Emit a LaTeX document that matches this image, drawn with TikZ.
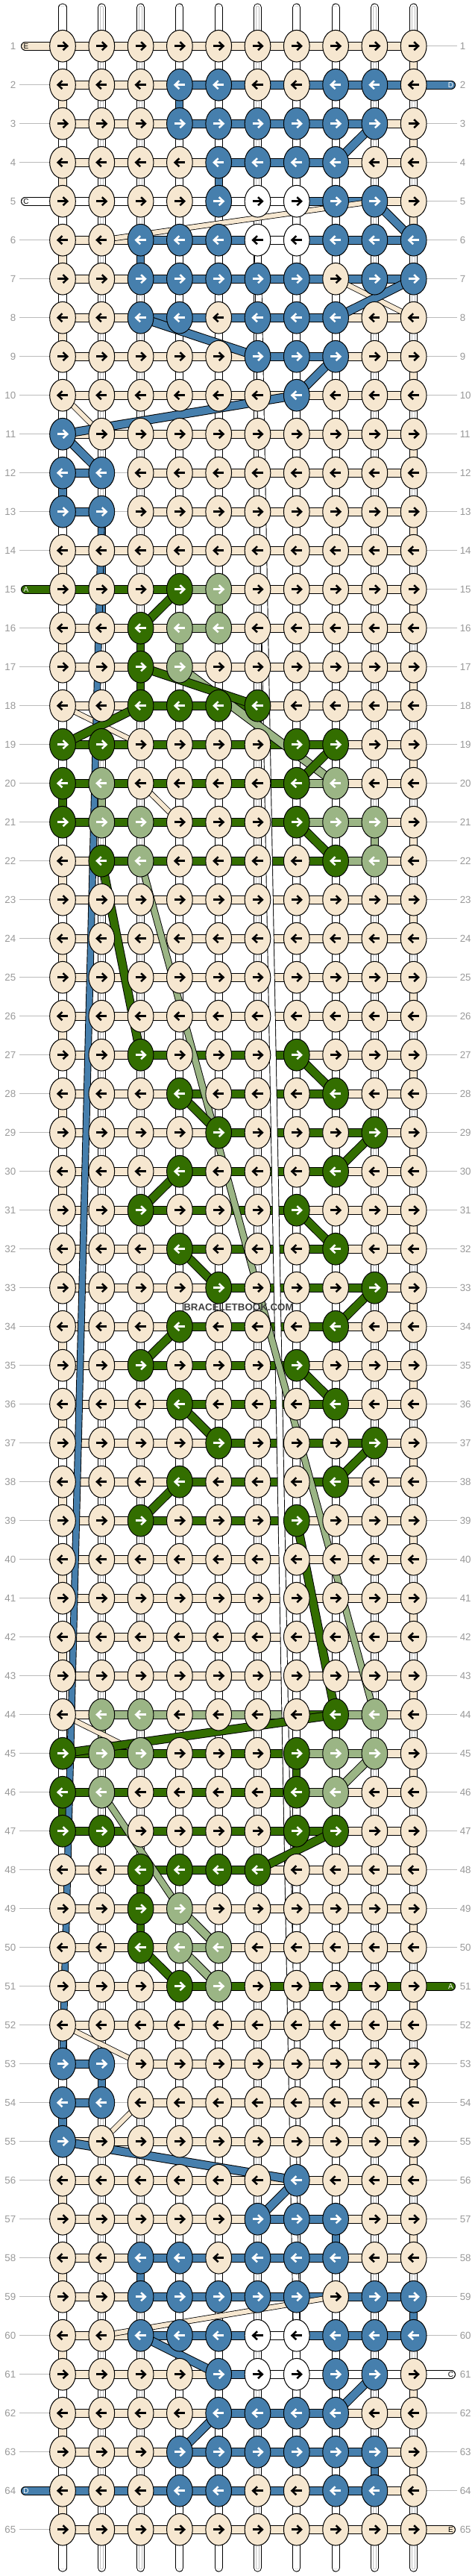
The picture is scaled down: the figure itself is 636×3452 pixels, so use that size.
\documentclass[tikz,border=0pt]{standalone}
\usepackage{fontspec}
\setmainfont{Liberation Sans}
\usetikzlibrary{shapes.geometric}
\definecolor{kb}{HTML}{F6E7D0}
\definecolor{kB}{HTML}{467FAD}
\definecolor{kW}{HTML}{FFFFFF}
\definecolor{kG}{HTML}{336E00}
\definecolor{kL}{HTML}{9BB585}
\definecolor{kn}{HTML}{FFFFFF}
\colorlet{ab}{black}\colorlet{aW}{black}\colorlet{aB}{white}\colorlet{aG}{white}\colorlet{aL}{white}
\colorlet{eb}{black}\colorlet{eW}{black}\colorlet{eB}{black}\colorlet{eG}{black}\colorlet{eL}{black}\colorlet{en}{white}
\definecolor{lblgray}{HTML}{999999}
\definecolor{linegray}{HTML}{BBBBBB}
\pgfdeclarelayer{paper}
\pgfdeclarelayer{verts}
\pgfdeclarelayer{bars}
\pgfdeclarelayer{diags}
\pgfsetlayers{paper,verts,bars,diags,main}
\begin{document}
\begin{tikzpicture}[x=0.75pt,y=-0.75pt,
 knot/.style={ellipse,draw=black,line width=0.75pt,minimum width=26pt,minimum height=32pt,inner sep=0pt},
 arr/.pic={\draw[line width=1.9pt,line cap=butt] (-7,0)--(5.5,0);
           \draw[line width=1.9pt,line join=miter,line cap=butt] (0.5,-5.5)--(6.3,0)--(0.5,5.5);},
 hbar/.style={line width=0.75pt,double distance=7.5pt},
 vout/.style={draw=black,line width=0.75pt,double=white,double distance=6.8pt},
 vin/.style={draw=black!25,line width=0.4pt,double=white,double distance=2.6pt},
 vc/.style={draw=black,line width=0.75pt,double=#1,double distance=6.8pt},
 dg/.style={draw=black,line width=0.75pt,double=#1,double distance=7.5pt},
 dgm/.style={draw=black,line width=0.7pt,double=#1,double distance=5.8pt},
 dgt/.style={draw=black,line width=0.6pt,double=#1,double distance=4.5pt},
 side/.style={draw=black,line width=0.75pt,double=#1,double distance=7.5pt,line cap=round},
 glin/.style={draw=linegray,line width=0.75pt},
 lbl/.style={text=lblgray,font=\fontsize{10}{12}\selectfont,inner sep=0pt},
 sidelbl/.style={font=\fontsize{7.5}{9}\selectfont,inner sep=0pt},
]
\useasboundingbox (0,0) rectangle (636,3452);
\begin{pgfonlayer}{paper}
\fill[white] (0,0) rectangle (636,3452);
\end{pgfonlayer}

% knots and horizontal bars
\foreach \r/\K/\H in {
1/{b,b,b,b,b,b,b,b,b,b}/{b,b,b,b,b,b,b,b,b},
2/{b,b,b,B,B,b,b,B,B,b}/{b,b,b,B,B,B,B,B,B},
3/{b,b,b,B,B,B,B,B,B,b}/{b,b,b,B,B,B,B,B,b},
4/{b,b,b,b,B,B,B,B,b,b}/{b,b,b,b,B,B,B,b,b},
5/{b,b,b,b,B,W,W,B,B,b}/{W,W,W,W,W,W,B,B,b},
6/{b,b,B,B,B,W,W,B,B,B}/{b,b,B,B,B,W,B,B,B},
7/{b,b,B,B,B,B,B,b,B,B}/{b,b,B,B,B,B,B,B,B},
8/{b,b,B,B,b,B,B,B,b,b}/{b,b,B,B,B,B,B,b,b},
9/{b,b,b,b,b,B,B,B,b,b}/{b,b,b,b,b,B,B,b,b},
10/{b,b,b,b,b,b,B,b,b,b}/{b,b,b,b,b,b,b,b,b},
11/{B,b,b,b,b,b,b,b,b,b}/{b,b,b,b,b,b,b,b,b},
12/{B,B,b,b,b,b,b,b,b,b}/{B,n,b,b,b,b,b,b,b},
13/{B,B,b,b,b,b,b,b,b,b}/{B,n,b,b,b,b,b,b,b},
14/{b,b,b,b,b,b,b,b,b,b}/{b,b,b,b,b,b,b,b,b},
15/{b,b,b,G,L,b,b,b,b,b}/{G,G,G,L,b,b,b,b,b},
16/{b,b,G,L,L,b,b,b,b,b}/{b,b,b,L,b,b,b,b,b},
17/{b,b,G,L,b,b,b,b,b,b}/{b,b,b,b,b,b,b,b,b},
18/{b,b,G,G,G,G,b,b,b,b}/{b,b,G,G,G,b,b,b,b},
19/{G,G,b,b,b,b,G,G,b,b}/{G,G,G,G,G,G,G,b,b},
20/{G,L,b,b,b,b,G,L,b,b}/{G,G,G,G,G,G,L,b,b},
21/{G,L,L,b,b,b,G,L,L,b}/{G,G,G,G,G,G,L,L,b},
22/{b,G,L,b,b,b,b,G,L,b}/{b,G,G,G,G,G,G,L,b},
23/{b,b,b,b,b,b,b,b,b,b}/{b,b,b,b,b,b,b,b,b},
24/{b,b,b,b,b,b,b,b,b,b}/{b,b,b,b,b,b,b,b,b},
25/{b,b,b,b,b,b,b,b,b,b}/{b,b,b,b,b,b,b,b,b},
26/{b,b,b,b,b,b,b,b,b,b}/{b,b,b,b,b,b,b,b,b},
27/{b,b,G,b,b,b,G,b,b,b}/{b,b,G,G,G,G,b,b,b},
28/{b,b,b,G,b,b,b,G,b,b}/{b,b,b,G,G,G,G,b,b},
29/{b,b,b,b,G,b,b,b,G,b}/{b,b,b,b,G,G,G,G,b},
30/{b,b,b,G,b,b,b,G,b,b}/{b,b,b,G,G,G,G,b,b},
31/{b,b,G,b,b,b,G,b,b,b}/{b,b,G,G,G,G,b,b,b},
32/{b,b,b,G,b,b,b,G,b,b}/{b,b,b,G,G,G,G,b,b},
33/{b,b,b,b,G,b,b,b,G,b}/{b,b,b,b,G,G,G,G,b},
34/{b,b,b,G,b,b,b,G,b,b}/{b,b,b,G,G,G,G,b,b},
35/{b,b,G,b,b,b,G,b,b,b}/{b,b,G,G,G,G,b,b,b},
36/{b,b,b,G,b,b,b,G,b,b}/{b,b,b,G,G,G,G,b,b},
37/{b,b,b,b,G,b,b,b,G,b}/{b,b,b,b,G,G,G,G,b},
38/{b,b,b,G,b,b,b,G,b,b}/{b,b,b,G,G,G,G,b,b},
39/{b,b,G,b,b,b,G,b,b,b}/{b,b,G,G,G,G,b,b,b},
40/{b,b,b,b,b,b,b,b,b,b}/{b,b,b,b,b,b,b,b,b},
41/{b,b,b,b,b,b,b,b,b,b}/{b,b,b,b,b,b,b,b,b},
42/{b,b,b,b,b,b,b,b,b,b}/{b,b,b,b,b,b,b,b,b},
43/{b,b,b,b,b,b,b,b,b,b}/{b,b,b,b,b,b,b,b,b},
44/{b,L,L,b,b,b,b,G,L,b}/{b,L,L,L,L,L,G,L,b},
45/{G,L,L,b,b,b,G,L,L,b}/{G,G,G,G,G,G,L,L,b},
46/{G,L,b,b,b,b,G,L,b,b}/{G,G,G,G,G,G,L,b,b},
47/{G,G,b,b,b,b,G,G,b,b}/{G,G,G,G,G,G,G,b,b},
48/{b,b,G,G,G,G,b,b,b,b}/{b,b,G,G,G,b,b,b,b},
49/{b,b,G,L,b,b,b,b,b,b}/{b,b,b,b,b,b,b,b,b},
50/{b,b,G,L,L,b,b,b,b,b}/{b,b,b,L,b,b,b,b,b},
51/{b,b,b,G,L,b,b,b,b,b}/{b,b,b,G,G,G,G,G,G},
52/{b,b,b,b,b,b,b,b,b,b}/{b,b,b,b,b,b,b,b,b},
53/{B,B,b,b,b,b,b,b,b,b}/{B,n,b,b,b,b,b,b,b},
54/{B,B,b,b,b,b,b,b,b,b}/{B,n,b,b,b,b,b,b,b},
55/{B,b,b,b,b,b,b,b,b,b}/{b,b,b,b,b,b,b,b,b},
56/{b,b,b,b,b,b,B,b,b,b}/{b,b,b,b,b,b,b,b,b},
57/{b,b,b,b,b,B,B,B,b,b}/{b,b,b,b,b,B,B,b,b},
58/{b,b,B,B,b,B,B,B,b,b}/{b,b,B,B,B,B,B,b,b},
59/{b,b,B,B,B,B,B,b,B,B}/{b,b,B,B,B,B,B,B,B},
60/{b,b,B,B,B,W,W,B,B,B}/{b,b,B,B,B,W,B,B,B},
61/{b,b,b,b,B,W,W,B,B,b}/{b,b,b,b,B,W,W,W,W},
62/{b,b,b,b,B,B,B,B,b,b}/{b,b,b,b,B,B,B,b,b},
63/{b,b,b,B,B,B,B,B,B,b}/{b,b,b,B,B,B,B,B,b},
64/{b,b,b,B,B,b,b,B,B,b}/{B,B,B,B,B,B,B,B,b},
65/{b,b,b,b,b,b,b,b,b,b}/{b,b,b,b,b,b,b,b,b}%
}{
  \pgfmathsetmacro\dir{mod(\r,2)==1 ? 1 : -1}
  \foreach \col [count=\c] in \K {
    \node[knot,fill=k\col] (k\r-\c) at ({84+52.3*(\c-1)},{61.7+52*(\r-1)}) {};
    \pic[color=a\col,xscale=\dir] at (k\r-\c) {arr};
  }
  \begin{pgfonlayer}{bars}
  \foreach \hc [count=\c] in \H {
    \pgfmathtruncatemacro\cn{\c+1}
    \draw[hbar,draw=e\hc,double=k\hc] (k\r-\c.center) -- (k\r-\cn.center);
  }
  \end{pgfonlayer}
  \node[lbl,anchor=east] (ll\r) at (21.5,{61.7+52*(\r-1)}) {\r};
  \node[lbl,anchor=west] (lr\r) at (616.5,{61.7+52*(\r-1)}) {\r};
  \coordinate (gl\r) at (26,{61.7+52*(\r-1)});
  \coordinate (gr\r) at (613,{61.7+52*(\r-1)});
  \pgfmathtruncatemacro\skipL{or(or(\r==1,\r==5),or(\r==15,\r==64))}
  \pgfmathtruncatemacro\skipR{or(or(\r==2,\r==51),or(\r==61,\r==65))}
  \begin{pgfonlayer}{verts}
  \ifnum\skipL=0 \draw[glin] (gl\r) -- (k\r-1.center); \fi
  \ifnum\skipR=0 \draw[glin] (gr\r) -- (k\r-10.center); \fi
  \end{pgfonlayer}
}

% vertical strands
\begin{pgfonlayer}{verts}
\foreach \c in {1,...,10} {
  \coordinate (t\c) at ({84+52.3*(\c-1)},10);
  \coordinate (u\c) at ({84+52.3*(\c-1)},3441);
  \draw[vout,line cap=round] (t\c) -- (k1-\c.center);
  \draw[vin,line cap=round] (t\c) -- (k1-\c.center);
  \draw[vout,line cap=round] (k65-\c.center) -- (u\c);
  \draw[vin,line cap=round] (k65-\c.center) -- (u\c);
}
\foreach \r in {1,...,64} {
  \pgfmathtruncatemacro\rn{\r+1}
  \foreach \c in {1,...,10} {
    \draw[vout] (k\r-\c.center) -- (k\rn-\c.center);
    \draw[vin] (k\r-\c.center) -- (k\rn-\c.center);
  }
  \pgfmathtruncatemacro\ce{mod(\r,2)==1 ? 10 : 1}
  \draw[vc=kb] (k\r-\ce.center) -- (k\rn-\ce.center);
}
\foreach \r/\c in {7/10,10/1,18/1,44/1,52/1} {
  \pgfmathtruncatemacro\rn{\r+1}
  \draw[vout] (k\r-\c.center) -- (k\rn-\c.center);
  \draw[vin] (k\r-\c.center) -- (k\rn-\c.center);
}
\foreach \r/\c/\cl in {12/1/kB,54/1/kB,59/10/kB,20/1/kG,46/1/kG,2/4/kB,4/5/kB,6/3/kB,6/6/kW,
  13/2/kB,14/2/kB,15/2/kB,15/5/kL,16/3/kG,16/4/kL,17/3/kG,20/2/kL,21/9/kL,44/2/kL,45/7/kG,
  48/3/kG,49/3/kG,53/2/kB,57/8/kB,58/3/kB,63/9/kB} {
  \pgfmathtruncatemacro\rn{\r+1}
  \draw[vc=\cl] (k\r-\c.center) -- (k\rn-\c.center);
}
\end{pgfonlayer}

% side strands
\begin{pgfonlayer}{bars}
\foreach \r/\cl/\lt/\tc in {1/kb/E/black,5/kW/C/black,15/kG/A/white,64/kB/D/white} {
  \coordinate (sl\r) at (34,{61.7+52*(\r-1)});
  \draw[side=\cl] (sl\r) -- (k\r-1.center);
}
\foreach \r/\cl/\lt/\tc in {2/kB/D/white,51/kG/A/white,61/kW/C/black,65/kb/E/black} {
  \coordinate (sr\r) at (605,{61.7+52*(\r-1)});
  \draw[side=\cl] (k\r-10.center) -- (sr\r);
}
\end{pgfonlayer}
\foreach \r/\lt/\tc in {1/E/black,5/C/black,15/A/white,64/D/white}
  \node[sidelbl,text=\tc] (slt\r) at (35,{61.7+52*(\r-1)}) {\lt};
\foreach \r/\lt/\tc in {2/D/white,51/A/white,61/C/black,65/E/black}
  \node[sidelbl,text=\tc] (srt\r) at (604.5,{61.7+52*(\r-1)}) {\lt};

% carried strands
\begin{pgfonlayer}{diags}
\foreach \r in {12,13,53,54} \draw[glin] (k\r-2.center) -- (k\r-3.center);
\draw[dgm=white] (k6-6.center) -- (k60-7.center);
\foreach \p/\q in {6-2/5-9,7-8/8-10,10-1/11-2,18-1/19-3,20-3/21-4,44-1/45-3,52-1/53-3,54-3/55-2,60-2/59-8}
  \draw[dgt=kb] (k\p.center) -- (k\q.center);
\foreach \p/\q in {3-9/4-8,5-9/6-10,7-10/8-8,8-3/9-6,9-8/10-7,10-7/11-1,11-1/12-2,55-1/56-7,56-7/57-6,60-3/61-5,61-9/62-8,62-5/63-4}
  \draw[dg=kB] (k\p.center) -- (k\q.center);
\draw[dgm=kB] (k13-2.center) -- (k53-1.center);
\foreach \p/\q in {17-4/20-8,45-9/46-8,49-4/50-5,50-4/51-5}
  \draw[dg=kL] (k\p.center) -- (k\q.center);
\foreach \p/\q in {22-3/44-9,46-2/49-4}
  \draw[dgm=kL] (k\p.center) -- (k\q.center);
\foreach \p/\q in {15-4/16-3,17-3/18-6,18-3/19-1,19-8/20-7,21-7/22-8,22-2/27-3,27-7/28-8,28-4/29-5,29-9/30-8,30-4/31-3,31-7/32-8,32-4/33-5,33-9/34-8,34-4/35-3,35-7/36-8,36-4/37-5,37-9/38-8,38-4/39-3,39-7/44-8,44-8/45-1,47-8/48-6,50-3/51-4}
  \draw[dg=kG] (k\p.center) -- (k\q.center);
\end{pgfonlayer}

\node[font=\bfseries\fontsize{10}{12}\selectfont,text=black!75,inner sep=0pt] (wm) at (320,1752) {BRACELETBOOK.COM};
\end{tikzpicture}
\end{document}
